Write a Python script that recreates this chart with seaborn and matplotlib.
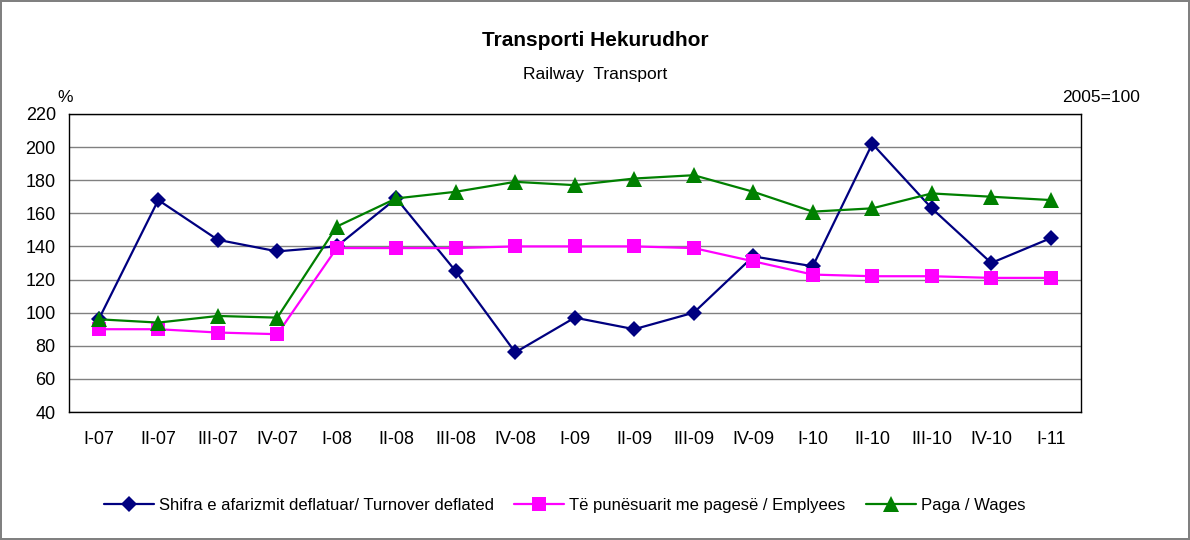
import numpy as np
import pandas as pd
import seaborn as sns
import matplotlib.pyplot as plt
from matplotlib.ticker import FixedLocator

quarters = ["I-07", "II-07", "III-07", "IV-07", "I-08", "II-08", "III-08", "IV-08",
            "I-09", "II-09", "III-09", "IV-09", "I-10", "II-10", "III-10", "IV-10", "I-11"]
turnover = [96, 168, 144, 137, 140, 169, 125, 76, 97, 90, 100, 134, 128, 202, 163, 130, 145]
employees = [90, 90, 88, 87, 139, 139, 139, 140, 140, 140, 139, 131, 123, 122, 122, 121, 121]
wages = [96, 94, 98, 97, 152, 169, 173, 179, 177, 181, 183, 173, 161, 163, 172, 170, 168]

names = ["Shifra e afarizmit deflatuar/ Turnover deflated",
         "Të punësuarit me pagesë / Emplyees",
         "Paga / Wages"]

df = pd.DataFrame({"quarter": quarters, names[0]: turnover, names[1]: employees, names[2]: wages})

sns.set_style("white")
plt.rcParams["font.family"] = ["Liberation Sans", "DejaVu Sans"]
plt.rcParams["text.color"] = "black"
plt.rcParams["xtick.color"] = "black"
plt.rcParams["ytick.color"] = "black"

fig = plt.figure(figsize=(11.9, 5.4), dpi=100)
fig.patch.set_edgecolor("#808080")
fig.patch.set_linewidth(1.5)
ax = fig.add_axes([0.058, 0.237, 0.85, 0.552])

styles = [(names[0], "#000080", "D", 8.5),
          (names[1], "#FF00FF", "s", 10),
          (names[2], "#008000", "^", 11)]
for name, color, marker, msize in styles:
    sns.lineplot(data=df, x="quarter", y=name, color=color, marker=marker,
                 markersize=msize, markeredgewidth=0, linewidth=1.6,
                 ax=ax, label=name, sort=False)

ax.set_ylim(40, 220)
ax.set_yticks(range(40, 221, 20))
ax.set_xlim(-0.5, len(quarters) - 0.5)
ax.yaxis.grid(True, color="#808080", linewidth=1)
ax.set_axisbelow(True)
for s in ax.spines.values():
    s.set_color("black")
    s.set_linewidth(1)
ax.tick_params(axis="x", which="major", length=0, pad=14, labelsize=13)
ax.xaxis.set_minor_locator(FixedLocator(np.arange(-0.5, len(quarters), 1)))
ax.tick_params(axis="x", which="minor", length=6, direction="out", color="black")
ax.tick_params(axis="y", length=6, direction="out", color="black", labelsize=13)
ax.set_xlabel("")
ax.set_ylabel("")

fig.text(0.5, 0.925, "Transporti Hekurudhor", ha="center", va="center",
         fontsize=15, fontweight="bold")
fig.text(0.5, 0.862, "Railway  Transport", ha="center", va="center", fontsize=12.5)
fig.text(0.055, 0.82, "%", ha="center", va="center", fontsize=12.5)
fig.text(0.925, 0.82, "2005=100", ha="center", va="center", fontsize=12.5)

handles, labels = ax.get_legend_handles_labels()
ax.legend(handles, labels, loc="center", bbox_to_anchor=(0.49, -0.312), ncol=3,
          frameon=False, fontsize=12, handlelength=3, columnspacing=1.2, handletextpad=0.3)

fig.savefig("out.png", dpi=100)
